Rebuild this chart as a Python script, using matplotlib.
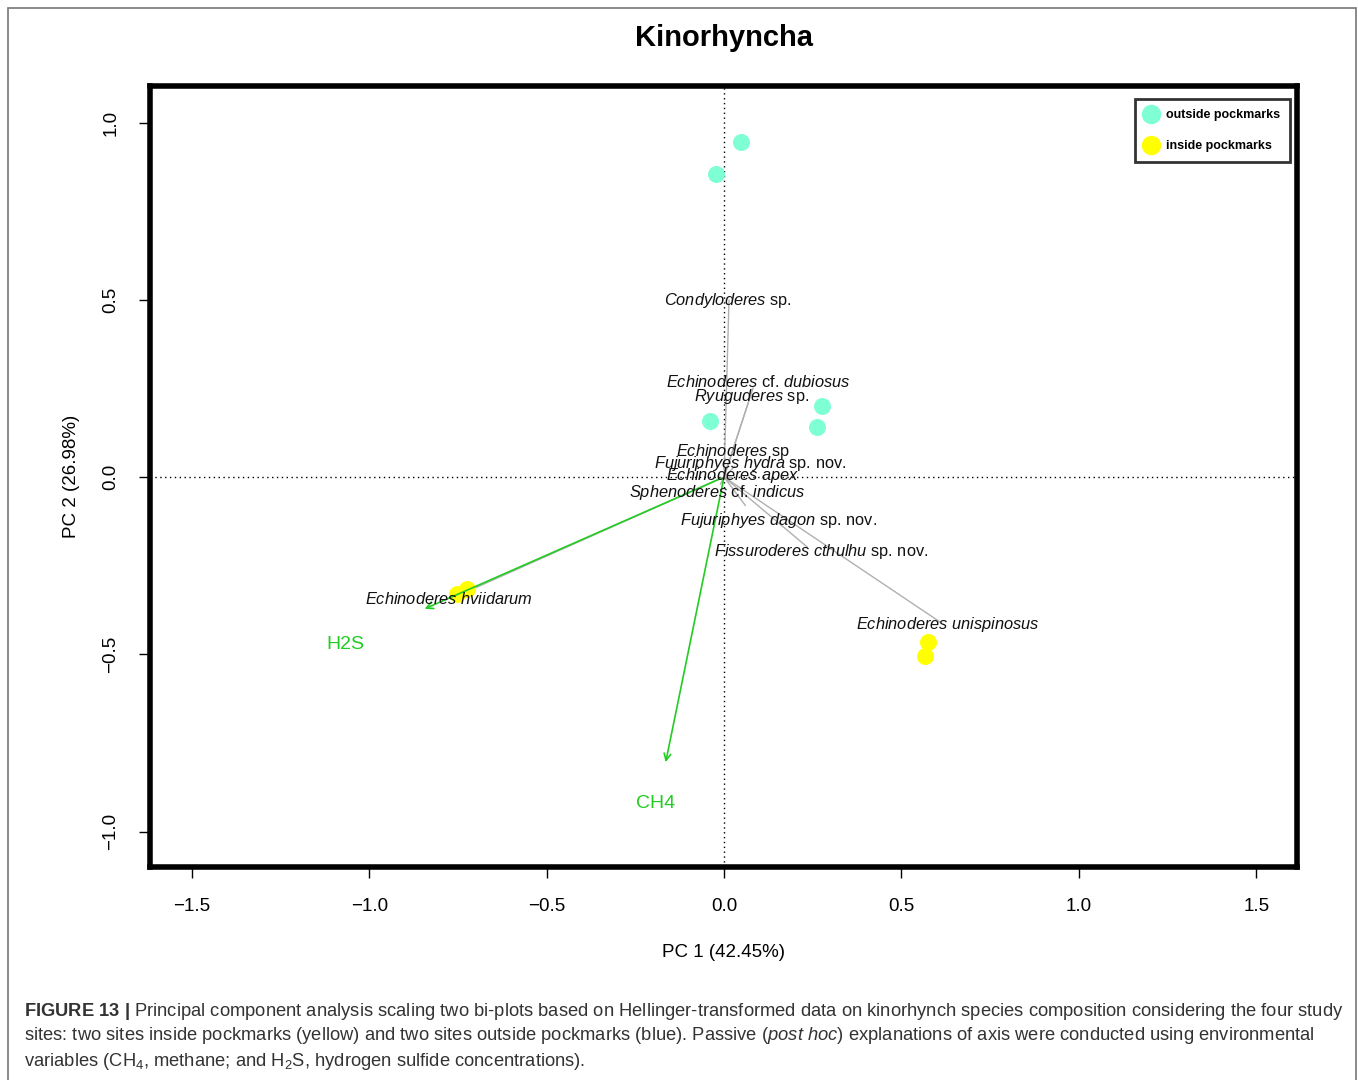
import matplotlib
matplotlib.use("Agg")
import matplotlib.pyplot as plt
from matplotlib.patches import Rectangle
from matplotlib.lines import Line2D

plt.rcParams['font.family'] = ['Liberation Sans', 'DejaVu Sans']
plt.rcParams['mathtext.fontset'] = 'custom'
plt.rcParams['mathtext.rm'] = 'Liberation Sans'
plt.rcParams['mathtext.it'] = 'Liberation Sans:italic'
plt.rcParams['mathtext.bf'] = 'Liberation Sans:bold'

# sitios (PC1, PC2)
fuera_x = [0.048, -0.023, -0.039, 0.276, 0.262]
fuera_y = [0.945, 0.855, 0.158, 0.200, 0.141]
dentro_x = [-0.725, -0.753, 0.575, 0.567]
dentro_y = [-0.316, -0.330, -0.465, -0.505]

# especies: etiqueta, punta de la flecha gris, posición del texto
especies = [
    r"$\it{Condyloderes}$ sp.",
    r"$\it{Echinoderes}$ cf. $\it{dubiosus}$",
    r"$\it{Ryuguderes}$ sp.",
    r"$\it{Echinoderes}$ sp",
    r"$\it{Fujuriphyes\ hydra}$ sp. nov.",
    r"$\it{Echinoderes\ apex}$",
    r"$\it{Sphenoderes}$ cf. $\it{indicus}$",
    r"$\it{Fujuriphyes\ dagon}$ sp. nov.",
    r"$\it{Fissuroderes\ cthulhu}$ sp. nov.",
    r"$\it{Echinoderes\ hviidarum}$",
    r"$\it{Echinoderes\ unispinosus}$",
]
esp_x = [0.014, 0.082, 0.068, 0.015, 0.030, 0.020, -0.010, 0.060, 0.234, -0.740, 0.609]
esp_y = [0.499, 0.251, 0.209, 0.050, 0.030, 0.000, -0.020, -0.080, -0.197, -0.330, -0.409]
etiq_x = [0.011, 0.096, 0.079, 0.025, 0.073, 0.025, -0.020, 0.155, 0.273, -0.775, 0.632]
etiq_y = [0.499, 0.268, 0.226, 0.073, 0.039, 0.003, -0.045, -0.124, -0.209, -0.344, -0.417]

# variables ambientales
amb = ["H2S", "CH4"]
amb_x = [-0.851, -0.166]
amb_y = [-0.375, -0.812]
amb_lx = [-1.066, -0.192]
amb_ly = [-0.471, -0.922]

verde = "#22cc22"

fig = plt.figure(figsize=(13.58, 10.8), dpi=100)
fig.patches.append(Rectangle((8 / 1358, -0.01), 1348 / 1358, 1 - 8 / 1080 + 0.01,
                             transform=fig.transFigure, fill=False,
                             edgecolor="#777777", linewidth=1.2))

ax = fig.add_axes([150 / 1358, 1 - 867 / 1080, 1147 / 1358, 781 / 1080])
ax.set_xlim(-1.618, 1.615)
ax.set_ylim(-1.100, 1.103)

ax.axhline(0, color="black", linestyle=(0, (1, 2.5)), linewidth=1)
ax.axvline(0, color="black", linestyle=(0, (1, 2.5)), linewidth=1)

for x, y in zip(esp_x, esp_y):
    ax.plot([0, x], [0, y], color="#b0b0b0", linewidth=1, zorder=2)

ax.scatter(fuera_x, fuera_y, s=150, color="#7fffd4", zorder=3, linewidths=0)
ax.scatter(dentro_x, dentro_y, s=150, color="#ffff00", zorder=3, linewidths=0)

for x, y in zip(amb_x, amb_y):
    ax.annotate("", xy=(x, y), xytext=(0, 0),
                arrowprops=dict(arrowstyle="->", color=verde, linewidth=1.2,
                                mutation_scale=12), zorder=4)
for nombre, x, y in zip(amb, amb_lx, amb_ly):
    ax.text(x, y, nombre, color=verde, fontsize=14, ha="center", va="center", zorder=5)

for nombre, x, y in zip(especies, etiq_x, etiq_y):
    ax.text(x, y, nombre, fontsize=11.8, color="#111111", ha="center", va="center", zorder=5)

ax.set_xticks([-1.5, -1.0, -0.5, 0.0, 0.5, 1.0, 1.5])
ax.set_yticks([-1.0, -0.5, 0.0, 0.5, 1.0])
ax.set_xticklabels(["\u22121.5", "\u22121.0", "\u22120.5", "0.0", "0.5", "1.0", "1.5"])
ax.set_yticklabels(["\u22121.0", "\u22120.5", "0.0", "0.5", "1.0"])
ax.tick_params(direction="out", length=8, width=1, labelsize=13.5, pad=14)
for lab in ax.get_yticklabels():
    lab.set_rotation(90)
    lab.set_va("center")
for s in ax.spines.values():
    s.set_linewidth(4)

ax.set_xlabel("PC 1 (42.45%)", fontsize=13.5, labelpad=21)
ax.set_ylabel("PC 2 (26.98%)", fontsize=13.5, labelpad=16)

manejadores = [
    Line2D([], [], marker="o", linestyle="", markersize=13, color="#7fffd4"),
    Line2D([], [], marker="o", linestyle="", markersize=13, color="#ffff00"),
]
ley = ax.legend(manejadores, ["outside pockmarks", "inside pockmarks"],
                loc="upper right", bbox_to_anchor=(0.994, 0.983),
                prop={"weight": "bold", "size": 9}, frameon=True, fancybox=False,
                handletextpad=0.7, borderpad=0.8, labelspacing=1.5, handlelength=1.0,
                borderaxespad=0)
ley.get_frame().set_edgecolor("black")
ley.get_frame().set_linewidth(2)

fig.text(724 / 1358, 1 - 38 / 1080, "Kinorhyncha", fontsize=21, fontweight="bold",
         ha="center", va="center")

leyenda = [
    r"$\bf{FIGURE\ 13\ |}$ Principal component analysis scaling two bi-plots based on Hellinger-transformed data on kinorhynch species composition considering the four study",
    r"sites: two sites inside pockmarks (yellow) and two sites outside pockmarks (blue). Passive ($\it{post\ hoc}$) explanations of axis were conducted using environmental",
    r"variables (CH$_4$, methane; and H$_2$S, hydrogen sulfide concentrations).",
]
for i, linea in enumerate(leyenda):
    fig.text(24 / 1358, 1 - (1011 + 25 * i) / 1080, linea, fontsize=13.2,
             color="#333333", ha="left", va="center")

fig.savefig("out.png", dpi=100)
